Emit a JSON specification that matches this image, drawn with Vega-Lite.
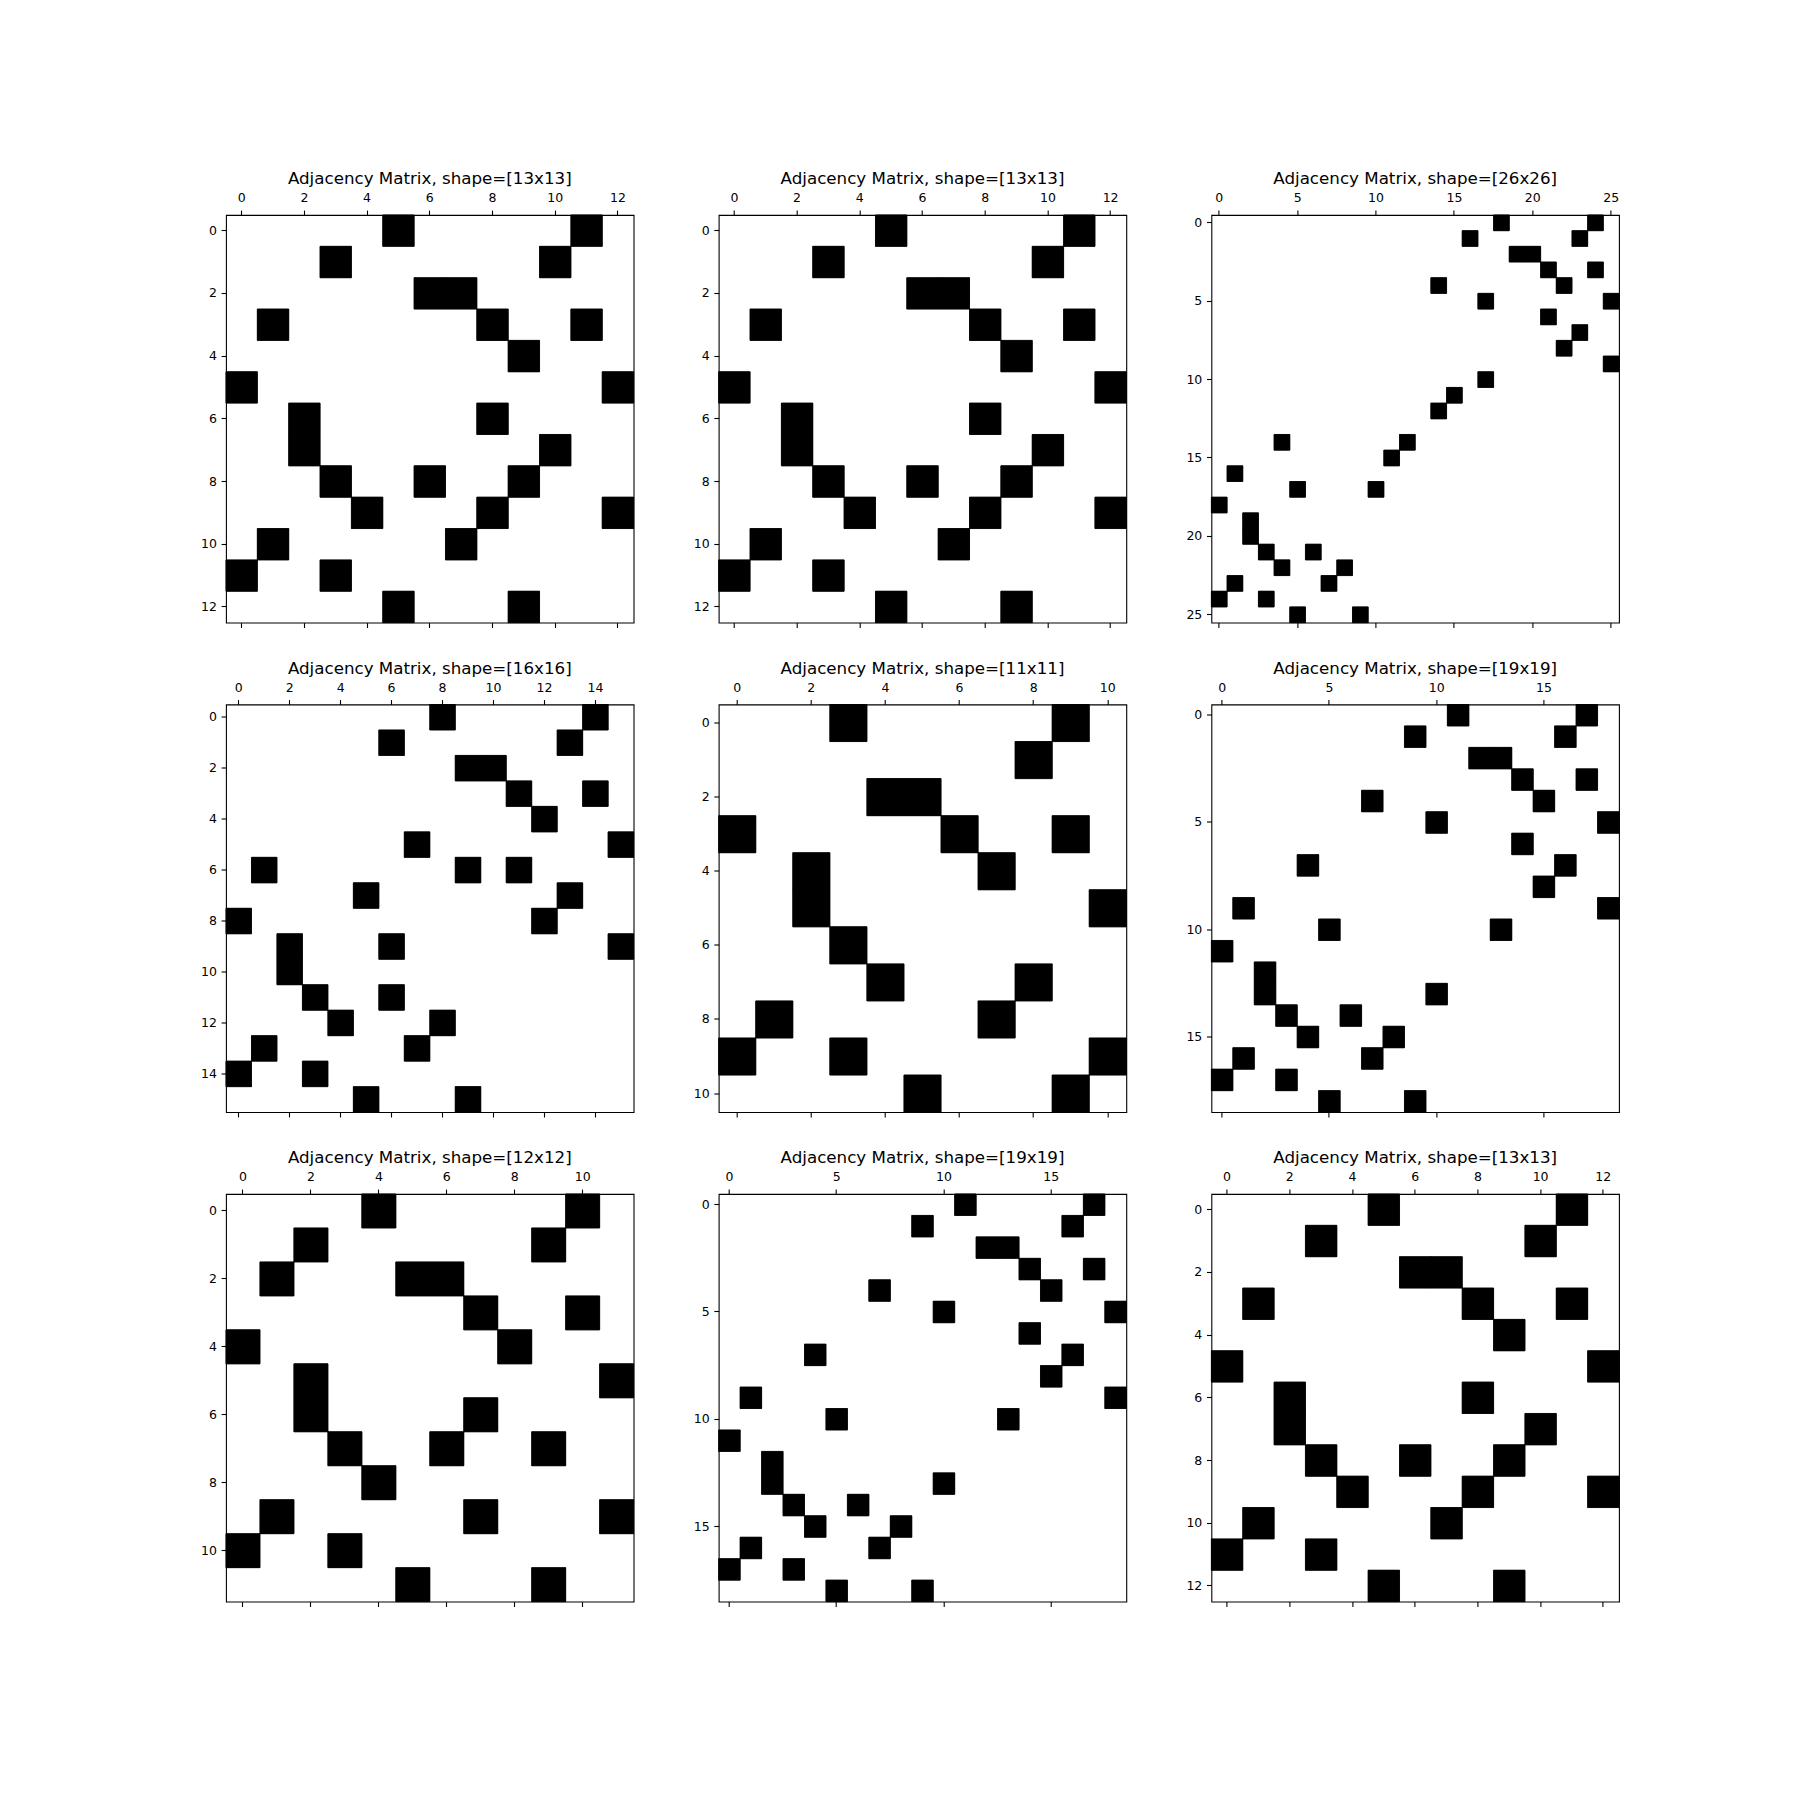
{
  "$schema": "https://vega.github.io/schema/vega-lite/v6.json",
  "background": "white",
  "padding": {"left": 199, "top": 170, "right": 10, "bottom": 10},
  "bounds": "flush",
  "columns": 3,
  "spacing": {"row": 81.5, "column": 84.7},
  "datasets": {
    "m13": [
      {"r":0,"c":5},{"r":0,"c":11},
      {"r":1,"c":3},{"r":1,"c":10},
      {"r":2,"c":6},{"r":2,"c":7},
      {"r":3,"c":1},{"r":3,"c":8},{"r":3,"c":11},
      {"r":4,"c":9},
      {"r":5,"c":0},{"r":5,"c":12},
      {"r":6,"c":2},{"r":6,"c":8},
      {"r":7,"c":2},{"r":7,"c":10},
      {"r":8,"c":3},{"r":8,"c":6},{"r":8,"c":9},
      {"r":9,"c":4},{"r":9,"c":8},{"r":9,"c":12},
      {"r":10,"c":1},{"r":10,"c":7},
      {"r":11,"c":0},{"r":11,"c":3},
      {"r":12,"c":5},{"r":12,"c":9}
    ],
    "m26": [
      {"r":0,"c":18},{"r":0,"c":24},
      {"r":1,"c":16},{"r":1,"c":23},
      {"r":2,"c":19},{"r":2,"c":20},
      {"r":3,"c":21},{"r":3,"c":24},
      {"r":4,"c":14},{"r":4,"c":22},
      {"r":5,"c":17},{"r":5,"c":25},
      {"r":6,"c":21},
      {"r":7,"c":23},
      {"r":8,"c":22},
      {"r":9,"c":25},
      {"r":10,"c":17},
      {"r":11,"c":15},
      {"r":12,"c":14},
      {"r":14,"c":4},{"r":14,"c":12},
      {"r":15,"c":11},
      {"r":16,"c":1},
      {"r":17,"c":5},{"r":17,"c":10},
      {"r":18,"c":0},
      {"r":19,"c":2},
      {"r":20,"c":2},
      {"r":21,"c":3},{"r":21,"c":6},
      {"r":22,"c":4},{"r":22,"c":8},
      {"r":23,"c":1},{"r":23,"c":7},
      {"r":24,"c":0},{"r":24,"c":3},
      {"r":25,"c":5},{"r":25,"c":9}
    ],
    "m16": [
      {"r":0,"c":8},{"r":0,"c":14},
      {"r":1,"c":6},{"r":1,"c":13},
      {"r":2,"c":9},{"r":2,"c":10},
      {"r":3,"c":11},{"r":3,"c":14},
      {"r":4,"c":12},
      {"r":5,"c":7},{"r":5,"c":15},
      {"r":6,"c":1},{"r":6,"c":9},{"r":6,"c":11},
      {"r":7,"c":5},{"r":7,"c":13},
      {"r":8,"c":0},{"r":8,"c":12},
      {"r":9,"c":2},{"r":9,"c":6},{"r":9,"c":15},
      {"r":10,"c":2},
      {"r":11,"c":3},{"r":11,"c":6},
      {"r":12,"c":4},{"r":12,"c":8},
      {"r":13,"c":1},{"r":13,"c":7},
      {"r":14,"c":0},{"r":14,"c":3},
      {"r":15,"c":5},{"r":15,"c":9}
    ],
    "m11": [
      {"r":0,"c":3},{"r":0,"c":9},
      {"r":1,"c":8},
      {"r":2,"c":4},{"r":2,"c":5},
      {"r":3,"c":0},{"r":3,"c":6},{"r":3,"c":9},
      {"r":4,"c":2},{"r":4,"c":7},
      {"r":5,"c":2},{"r":5,"c":10},
      {"r":6,"c":3},
      {"r":7,"c":4},{"r":7,"c":8},
      {"r":8,"c":1},{"r":8,"c":7},
      {"r":9,"c":0},{"r":9,"c":3},{"r":9,"c":10},
      {"r":10,"c":5},{"r":10,"c":9}
    ],
    "m19": [
      {"r":0,"c":11},{"r":0,"c":17},
      {"r":1,"c":9},{"r":1,"c":16},
      {"r":2,"c":12},{"r":2,"c":13},
      {"r":3,"c":14},{"r":3,"c":17},
      {"r":4,"c":7},{"r":4,"c":15},
      {"r":5,"c":10},{"r":5,"c":18},
      {"r":6,"c":14},
      {"r":7,"c":4},{"r":7,"c":16},
      {"r":8,"c":15},
      {"r":9,"c":1},{"r":9,"c":18},
      {"r":10,"c":5},{"r":10,"c":13},
      {"r":11,"c":0},
      {"r":12,"c":2},
      {"r":13,"c":2},{"r":13,"c":10},
      {"r":14,"c":3},{"r":14,"c":6},
      {"r":15,"c":4},{"r":15,"c":8},
      {"r":16,"c":1},{"r":16,"c":7},
      {"r":17,"c":0},{"r":17,"c":3},
      {"r":18,"c":5},{"r":18,"c":9}
    ],
    "m12": [
      {"r":0,"c":4},{"r":0,"c":10},
      {"r":1,"c":2},{"r":1,"c":9},
      {"r":2,"c":1},{"r":2,"c":5},{"r":2,"c":6},
      {"r":3,"c":7},{"r":3,"c":10},
      {"r":4,"c":0},{"r":4,"c":8},
      {"r":5,"c":2},{"r":5,"c":11},
      {"r":6,"c":2},{"r":6,"c":7},
      {"r":7,"c":3},{"r":7,"c":6},{"r":7,"c":9},
      {"r":8,"c":4},
      {"r":9,"c":1},{"r":9,"c":7},{"r":9,"c":11},
      {"r":10,"c":0},{"r":10,"c":3},
      {"r":11,"c":5},{"r":11,"c":9}
    ]
  },
  "concat": [
    {
      "width": 407.6, "height": 407.6,
      "title": "Adjacency Matrix, shape=[13x13]",
      "data": {"name": "m13"},
      "layer": [
        {"mark": {"type": "rect", "color": "black", "stroke": "black", "strokeWidth": 0.6},
         "encoding": {
           "x": {"field": "c", "type": "ordinal", "scale": {"domain": [0,1,2,3,4,5,6,7,8,9,10,11,12], "paddingInner": 0, "paddingOuter": 0}, "axis": {"orient": "top", "values": [0,2,4,6,8,10,12], "title": null}},
           "y": {"field": "r", "type": "ordinal", "scale": {"domain": [0,1,2,3,4,5,6,7,8,9,10,11,12], "paddingInner": 0, "paddingOuter": 0}, "axis": {"values": [0,2,4,6,8,10,12], "title": null}}
         }},
        {"mark": {"type": "rect", "color": "black", "stroke": "black", "strokeWidth": 0.6},
         "encoding": {
           "x": {"field": "c", "type": "ordinal", "axis": {"orient": "bottom", "values": [0,2,4,6,8,10,12], "labels": false, "title": null}},
           "y": {"field": "r", "type": "ordinal"}
         }}
      ]
    },
    {
      "width": 407.6, "height": 407.6,
      "title": "Adjacency Matrix, shape=[13x13]",
      "data": {"name": "m13"},
      "layer": [
        {"mark": {"type": "rect", "color": "black", "stroke": "black", "strokeWidth": 0.6},
         "encoding": {
           "x": {"field": "c", "type": "ordinal", "scale": {"domain": [0,1,2,3,4,5,6,7,8,9,10,11,12], "paddingInner": 0, "paddingOuter": 0}, "axis": {"orient": "top", "values": [0,2,4,6,8,10,12], "title": null}},
           "y": {"field": "r", "type": "ordinal", "scale": {"domain": [0,1,2,3,4,5,6,7,8,9,10,11,12], "paddingInner": 0, "paddingOuter": 0}, "axis": {"values": [0,2,4,6,8,10,12], "title": null}}
         }},
        {"mark": {"type": "rect", "color": "black", "stroke": "black", "strokeWidth": 0.6},
         "encoding": {
           "x": {"field": "c", "type": "ordinal", "axis": {"orient": "bottom", "values": [0,2,4,6,8,10,12], "labels": false, "title": null}},
           "y": {"field": "r", "type": "ordinal"}
         }}
      ]
    },
    {
      "width": 407.6, "height": 407.6,
      "title": "Adjacency Matrix, shape=[26x26]",
      "data": {"name": "m26"},
      "layer": [
        {"mark": {"type": "rect", "color": "black", "stroke": "black", "strokeWidth": 0.6},
         "encoding": {
           "x": {"field": "c", "type": "ordinal", "scale": {"domain": [0,1,2,3,4,5,6,7,8,9,10,11,12,13,14,15,16,17,18,19,20,21,22,23,24,25], "paddingInner": 0, "paddingOuter": 0}, "axis": {"orient": "top", "values": [0,5,10,15,20,25], "title": null}},
           "y": {"field": "r", "type": "ordinal", "scale": {"domain": [0,1,2,3,4,5,6,7,8,9,10,11,12,13,14,15,16,17,18,19,20,21,22,23,24,25], "paddingInner": 0, "paddingOuter": 0}, "axis": {"values": [0,5,10,15,20,25], "title": null}}
         }},
        {"mark": {"type": "rect", "color": "black", "stroke": "black", "strokeWidth": 0.6},
         "encoding": {
           "x": {"field": "c", "type": "ordinal", "axis": {"orient": "bottom", "values": [0,5,10,15,20,25], "labels": false, "title": null}},
           "y": {"field": "r", "type": "ordinal"}
         }}
      ]
    },
    {
      "width": 407.6, "height": 407.6,
      "title": "Adjacency Matrix, shape=[16x16]",
      "data": {"name": "m16"},
      "layer": [
        {"mark": {"type": "rect", "color": "black", "stroke": "black", "strokeWidth": 0.6},
         "encoding": {
           "x": {"field": "c", "type": "ordinal", "scale": {"domain": [0,1,2,3,4,5,6,7,8,9,10,11,12,13,14,15], "paddingInner": 0, "paddingOuter": 0}, "axis": {"orient": "top", "values": [0,2,4,6,8,10,12,14], "title": null}},
           "y": {"field": "r", "type": "ordinal", "scale": {"domain": [0,1,2,3,4,5,6,7,8,9,10,11,12,13,14,15], "paddingInner": 0, "paddingOuter": 0}, "axis": {"values": [0,2,4,6,8,10,12,14], "title": null}}
         }},
        {"mark": {"type": "rect", "color": "black", "stroke": "black", "strokeWidth": 0.6},
         "encoding": {
           "x": {"field": "c", "type": "ordinal", "axis": {"orient": "bottom", "values": [0,2,4,6,8,10,12,14], "labels": false, "title": null}},
           "y": {"field": "r", "type": "ordinal"}
         }}
      ]
    },
    {
      "width": 407.6, "height": 407.6,
      "title": "Adjacency Matrix, shape=[11x11]",
      "data": {"name": "m11"},
      "layer": [
        {"mark": {"type": "rect", "color": "black", "stroke": "black", "strokeWidth": 0.6},
         "encoding": {
           "x": {"field": "c", "type": "ordinal", "scale": {"domain": [0,1,2,3,4,5,6,7,8,9,10], "paddingInner": 0, "paddingOuter": 0}, "axis": {"orient": "top", "values": [0,2,4,6,8,10], "title": null}},
           "y": {"field": "r", "type": "ordinal", "scale": {"domain": [0,1,2,3,4,5,6,7,8,9,10], "paddingInner": 0, "paddingOuter": 0}, "axis": {"values": [0,2,4,6,8,10], "title": null}}
         }},
        {"mark": {"type": "rect", "color": "black", "stroke": "black", "strokeWidth": 0.6},
         "encoding": {
           "x": {"field": "c", "type": "ordinal", "axis": {"orient": "bottom", "values": [0,2,4,6,8,10], "labels": false, "title": null}},
           "y": {"field": "r", "type": "ordinal"}
         }}
      ]
    },
    {
      "width": 407.6, "height": 407.6,
      "title": "Adjacency Matrix, shape=[19x19]",
      "data": {"name": "m19"},
      "layer": [
        {"mark": {"type": "rect", "color": "black", "stroke": "black", "strokeWidth": 0.6},
         "encoding": {
           "x": {"field": "c", "type": "ordinal", "scale": {"domain": [0,1,2,3,4,5,6,7,8,9,10,11,12,13,14,15,16,17,18], "paddingInner": 0, "paddingOuter": 0}, "axis": {"orient": "top", "values": [0,5,10,15], "title": null}},
           "y": {"field": "r", "type": "ordinal", "scale": {"domain": [0,1,2,3,4,5,6,7,8,9,10,11,12,13,14,15,16,17,18], "paddingInner": 0, "paddingOuter": 0}, "axis": {"values": [0,5,10,15], "title": null}}
         }},
        {"mark": {"type": "rect", "color": "black", "stroke": "black", "strokeWidth": 0.6},
         "encoding": {
           "x": {"field": "c", "type": "ordinal", "axis": {"orient": "bottom", "values": [0,5,10,15], "labels": false, "title": null}},
           "y": {"field": "r", "type": "ordinal"}
         }}
      ]
    },
    {
      "width": 407.6, "height": 407.6,
      "title": "Adjacency Matrix, shape=[12x12]",
      "data": {"name": "m12"},
      "layer": [
        {"mark": {"type": "rect", "color": "black", "stroke": "black", "strokeWidth": 0.6},
         "encoding": {
           "x": {"field": "c", "type": "ordinal", "scale": {"domain": [0,1,2,3,4,5,6,7,8,9,10,11], "paddingInner": 0, "paddingOuter": 0}, "axis": {"orient": "top", "values": [0,2,4,6,8,10], "title": null}},
           "y": {"field": "r", "type": "ordinal", "scale": {"domain": [0,1,2,3,4,5,6,7,8,9,10,11], "paddingInner": 0, "paddingOuter": 0}, "axis": {"values": [0,2,4,6,8,10], "title": null}}
         }},
        {"mark": {"type": "rect", "color": "black", "stroke": "black", "strokeWidth": 0.6},
         "encoding": {
           "x": {"field": "c", "type": "ordinal", "axis": {"orient": "bottom", "values": [0,2,4,6,8,10], "labels": false, "title": null}},
           "y": {"field": "r", "type": "ordinal"}
         }}
      ]
    },
    {
      "width": 407.6, "height": 407.6,
      "title": "Adjacency Matrix, shape=[19x19]",
      "data": {"name": "m19"},
      "layer": [
        {"mark": {"type": "rect", "color": "black", "stroke": "black", "strokeWidth": 0.6},
         "encoding": {
           "x": {"field": "c", "type": "ordinal", "scale": {"domain": [0,1,2,3,4,5,6,7,8,9,10,11,12,13,14,15,16,17,18], "paddingInner": 0, "paddingOuter": 0}, "axis": {"orient": "top", "values": [0,5,10,15], "title": null}},
           "y": {"field": "r", "type": "ordinal", "scale": {"domain": [0,1,2,3,4,5,6,7,8,9,10,11,12,13,14,15,16,17,18], "paddingInner": 0, "paddingOuter": 0}, "axis": {"values": [0,5,10,15], "title": null}}
         }},
        {"mark": {"type": "rect", "color": "black", "stroke": "black", "strokeWidth": 0.6},
         "encoding": {
           "x": {"field": "c", "type": "ordinal", "axis": {"orient": "bottom", "values": [0,5,10,15], "labels": false, "title": null}},
           "y": {"field": "r", "type": "ordinal"}
         }}
      ]
    },
    {
      "width": 407.6, "height": 407.6,
      "title": "Adjacency Matrix, shape=[13x13]",
      "data": {"name": "m13"},
      "layer": [
        {"mark": {"type": "rect", "color": "black", "stroke": "black", "strokeWidth": 0.6},
         "encoding": {
           "x": {"field": "c", "type": "ordinal", "scale": {"domain": [0,1,2,3,4,5,6,7,8,9,10,11,12], "paddingInner": 0, "paddingOuter": 0}, "axis": {"orient": "top", "values": [0,2,4,6,8,10,12], "title": null}},
           "y": {"field": "r", "type": "ordinal", "scale": {"domain": [0,1,2,3,4,5,6,7,8,9,10,11,12], "paddingInner": 0, "paddingOuter": 0}, "axis": {"values": [0,2,4,6,8,10,12], "title": null}}
         }},
        {"mark": {"type": "rect", "color": "black", "stroke": "black", "strokeWidth": 0.6},
         "encoding": {
           "x": {"field": "c", "type": "ordinal", "axis": {"orient": "bottom", "values": [0,2,4,6,8,10,12], "labels": false, "title": null}},
           "y": {"field": "r", "type": "ordinal"}
         }}
      ]
    }
  ],
  "config": {
    "view": {"stroke": "black", "strokeWidth": 1.1, "fill": "white"},
    "axis": {
      "labelFont": "DejaVu Sans", "labelFontSize": 12.5, "labelColor": "black",
      "tickColor": "black", "tickSize": 4.9, "tickWidth": 1.1,
      "domain": false, "grid": false, "labelAngle": 0,
      "labelOverlap": false
    },
    "axisX": {"labelPadding": 5.4},
    "axisY": {"labelPadding": 4.7},
    "title": {"font": "DejaVu Sans", "fontSize": 16.7, "fontWeight": "normal", "color": "black", "offset": 4}
  }
}
